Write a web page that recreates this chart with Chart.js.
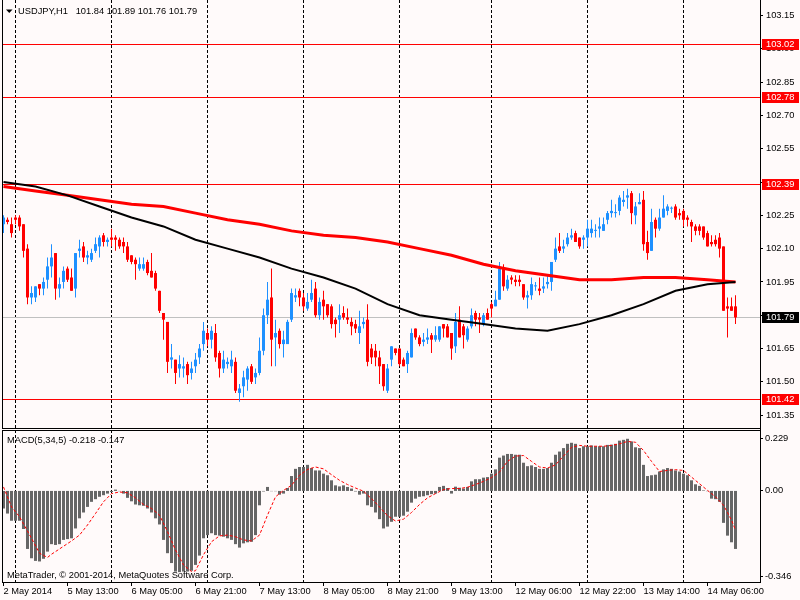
<!DOCTYPE html>
<html>
<head>
<meta charset="utf-8">
<script src="https://cdn.jsdelivr.net/npm/chart.js@4.4.0/dist/chart.umd.min.js"></script>
<style>
  body { margin: 0; background: #fffafa; }
  #wrap { position: relative; width: 800px; height: 600px; overflow: hidden; }
  canvas { position: absolute; left: 0; }
</style>
</head>
<body>
<div id="wrap">
  <canvas id="price" width="800" height="430" style="top:0px"></canvas>
  <canvas id="macd" width="800" height="170" style="top:430px"></canvas>
</div>
<script>
// USDJPY H1 candles (oldest first)
const opens = [
  102.21,102.23,102.21,102.24,102.24,102.21,102.10,101.88,101.88,101.94,
  101.92,101.96,102.02,102.08,101.92,101.95,102.01,101.97,101.92,102.09,
  102.11,102.06,102.05,102.09,102.11,102.16,102.13,102.15,102.15,102.14,
  102.13,102.11,102.07,102.05,102.01,102.01,102.04,102.00,101.99,101.91,
  101.81,101.77,101.60,101.60,101.56,101.56,101.58,101.54,101.57,101.61,
  101.67,101.72,101.69,101.72,101.63,101.56,101.58,101.57,101.59,101.45,
  101.48,101.51,101.57,101.52,101.54,101.64,101.80,101.88,101.70,101.73,
  101.67,101.67,101.78,101.88,101.91,101.88,101.83,101.87,101.92,101.80,
  101.87,101.85,101.84,101.78,101.78,101.81,101.79,101.77,101.76,101.72,
  101.76,101.78,101.65,101.64,101.61,101.58,101.46,101.60,101.65,101.65,
  101.60,101.58,101.61,101.74,101.70,101.68,101.69,101.71,101.69,101.69,
  101.76,101.75,101.72,101.66,101.78,101.75,101.69,101.75,101.81,101.79,
  101.76,101.81,101.85,101.84,101.87,102.01,101.92,101.97,101.96,101.96,
  101.94,101.88,101.89,101.93,101.92,101.92,101.94,101.95,102.05,102.11,
  102.10,102.12,102.15,102.17,102.15,102.14,102.15,102.17,102.18,102.19,
  102.18,102.23,102.26,102.26,102.27,102.31,102.33,102.35,102.25,102.30,
  102.32,102.13,102.09,102.23,102.19,102.24,102.27,102.28,102.29,102.26,
  102.27,102.24,102.22,102.20,102.20,102.20,102.17,102.13,102.14,102.15,
  102.11,101.84,101.84,101.84];
const highs = [
  102.25,102.24,102.24,102.25,102.25,102.21,102.12,101.93,101.93,101.94,
  101.97,102.06,102.12,102.08,101.97,102.02,102.02,102.01,102.08,102.14,
  102.13,102.09,102.10,102.15,102.16,102.17,102.15,102.19,102.16,102.15,
  102.15,102.13,102.07,102.06,102.06,102.06,102.05,102.08,102.00,101.91,
  101.81,101.77,101.67,101.60,101.62,101.61,101.59,101.59,101.63,101.67,
  101.77,101.74,101.75,101.76,101.64,101.64,101.61,101.64,101.61,101.49,
  101.55,101.57,101.58,101.56,101.70,101.83,101.95,102.01,101.78,101.74,
  101.73,101.78,101.92,101.92,101.92,101.90,101.90,101.96,101.95,101.88,
  101.91,101.85,101.85,101.79,101.85,101.84,101.83,101.79,101.78,101.82,
  101.79,101.85,101.67,101.67,101.64,101.58,101.58,101.66,101.65,101.65,
  101.61,101.64,101.74,101.74,101.71,101.72,101.74,101.72,101.75,101.75,
  101.76,101.76,101.72,101.81,101.84,101.76,101.75,101.83,101.82,101.81,
  101.81,101.83,101.86,101.91,102.04,102.03,101.98,101.98,101.98,101.98,
  101.94,101.91,101.97,101.95,101.97,101.97,101.98,102.04,102.15,102.17,
  102.14,102.17,102.19,102.18,102.15,102.16,102.23,102.23,102.21,102.24,
  102.24,102.27,102.32,102.30,102.34,102.36,102.37,102.36,102.31,102.35,
  102.36,102.18,102.28,102.24,102.28,102.34,102.30,102.29,102.30,102.28,
  102.28,102.25,102.23,102.21,102.21,102.20,102.18,102.16,102.16,102.17,
  102.11,101.88,101.88,101.89];
const lows = [
  102.17,102.21,102.15,102.21,102.18,102.06,101.85,101.85,101.86,101.89,
  101.89,101.92,101.97,101.87,101.88,101.92,101.95,101.91,101.88,102.06,
  102.04,102.03,102.04,102.08,102.06,102.11,102.11,102.11,102.09,102.10,
  102.08,102.04,102.03,101.96,102.00,102.00,101.98,101.97,101.91,101.81,
  101.69,101.54,101.56,101.49,101.52,101.52,101.49,101.51,101.54,101.58,
  101.64,101.66,101.65,101.59,101.52,101.54,101.56,101.54,101.45,101.41,
  101.43,101.46,101.49,101.49,101.53,101.62,101.76,101.57,101.57,101.65,
  101.61,101.67,101.77,101.86,101.84,101.82,101.82,101.86,101.79,101.78,
  101.78,101.79,101.74,101.70,101.72,101.78,101.76,101.71,101.72,101.67,
  101.74,101.57,101.58,101.57,101.49,101.46,101.45,101.57,101.62,101.57,
  101.57,101.54,101.61,101.69,101.66,101.66,101.67,101.63,101.68,101.68,
  101.70,101.70,101.60,101.63,101.70,101.65,101.68,101.74,101.75,101.72,
  101.75,101.78,101.79,101.84,101.87,101.91,101.91,101.94,101.93,101.93,
  101.87,101.83,101.87,101.91,101.89,101.90,101.92,101.91,102.04,102.08,
  102.08,102.11,102.14,102.13,102.10,102.10,102.11,102.15,102.15,102.15,
  102.18,102.21,102.24,102.24,102.25,102.29,102.28,102.21,102.21,102.30,
  102.09,102.05,102.09,102.15,102.18,102.24,102.25,102.26,102.23,102.23,
  102.20,102.20,102.13,102.16,102.16,102.14,102.11,102.11,102.11,102.06,
  101.82,101.70,101.82,101.76];
const closes = [
  102.24,102.22,102.17,102.23,102.20,102.09,101.88,101.90,101.93,101.92,
  101.95,102.02,102.06,101.92,101.94,102.00,101.96,101.91,102.08,102.10,
  102.06,102.07,102.08,102.12,102.15,102.13,102.14,102.14,102.14,102.11,
  102.11,102.05,102.04,102.03,102.03,102.03,101.99,101.97,101.92,101.82,
  101.78,101.59,101.61,101.54,101.58,101.57,101.53,101.56,101.60,101.65,
  101.73,101.69,101.73,101.61,101.56,101.60,101.59,101.60,101.46,101.47,
  101.52,101.56,101.50,101.54,101.64,101.80,101.87,101.69,101.72,101.67,
  101.69,101.77,101.90,101.89,101.88,101.84,101.86,101.90,101.80,101.86,
  101.84,101.80,101.76,101.76,101.80,101.79,101.78,101.75,101.74,101.75,
  101.77,101.59,101.61,101.61,101.57,101.48,101.56,101.66,101.63,101.58,
  101.57,101.63,101.72,101.70,101.67,101.69,101.70,101.69,101.71,101.75,
  101.74,101.70,101.65,101.77,101.70,101.71,101.74,101.80,101.78,101.78,
  101.80,101.78,101.83,101.87,102.01,101.93,101.96,101.96,101.95,101.95,
  101.88,101.89,101.94,101.93,101.91,101.93,101.95,102.04,102.10,102.09,
  102.11,102.15,102.16,102.13,102.11,102.15,102.19,102.19,102.18,102.20,
  102.21,102.26,102.27,102.26,102.33,102.32,102.34,102.26,102.29,102.31,
  102.12,102.08,102.22,102.19,102.24,102.28,102.29,102.28,102.24,102.25,
  102.23,102.23,102.20,102.18,102.18,102.15,102.11,102.12,102.12,102.10,
  101.82,101.83,101.82,101.79];

// moving averages, read every 8 bars
const maIdx   = [0,8,16,24,32,40,48,56,64,72,80,88,96,104,112,120,128,136,144,152,160,168,176,183];
const maRed   = [102.38,102.36,102.34,102.32,102.30,102.29,102.26,102.23,102.21,102.18,102.16,102.15,
                 102.13,102.10,102.07,102.03,102.00,101.98,101.96,101.96,101.97,101.97,101.96,101.95];
const maBlack = [102.40,102.38,102.34,102.29,102.24,102.20,102.14,102.10,102.06,102.01,101.97,101.92,
                 101.85,101.80,101.78,101.76,101.74,101.73,101.76,101.80,101.85,101.91,101.94,101.95];

// MACD(5,34,5) histogram, one per bar
const macdHist = [
  -0.066,-0.085,-0.112,-0.112,-0.112,-0.143,-0.218,-0.253,-0.263,-0.265,
  -0.255,-0.228,-0.200,-0.203,-0.200,-0.184,-0.181,-0.178,-0.141,-0.103,
  -0.081,-0.060,-0.041,-0.031,-0.022,-0.016,-0.010,-0.004,0.005,-0.001,
  -0.010,-0.026,-0.039,-0.051,-0.054,-0.056,-0.066,-0.081,-0.103,-0.126,
  -0.184,-0.234,-0.271,-0.303,-0.305,-0.303,-0.303,-0.300,-0.278,-0.243,
  -0.178,-0.166,-0.159,-0.166,-0.168,-0.172,-0.178,-0.184,-0.200,-0.213,
  -0.197,-0.193,-0.191,-0.166,-0.054,-0.002,0.015,-0.001,-0.001,-0.014,
  -0.010,0.011,0.056,0.083,0.090,0.090,0.098,0.086,0.077,0.077,
  0.065,0.059,0.040,0.021,0.017,0.021,0.015,0.009,-0.002,-0.014,
  -0.010,-0.054,-0.060,-0.081,-0.106,-0.141,-0.134,-0.116,-0.097,-0.097,
  -0.093,-0.078,-0.044,-0.029,-0.022,-0.020,-0.016,-0.012,-0.010,0.015,
  0.019,0.011,-0.010,0.016,0.012,0.009,0.015,0.036,0.044,0.044,
  0.050,0.052,0.065,0.081,0.125,0.133,0.139,0.139,0.136,0.136,
  0.106,0.093,0.096,0.090,0.083,0.083,0.086,0.106,0.136,0.148,
  0.161,0.177,0.181,0.177,0.161,0.168,0.168,0.171,0.168,0.168,
  0.168,0.173,0.174,0.177,0.189,0.192,0.196,0.186,0.164,0.161,
  0.098,0.056,0.059,0.061,0.073,0.081,0.086,0.083,0.077,0.073,
  0.065,0.059,0.040,0.025,0.019,0.002,-0.001,-0.029,-0.031,-0.041,
  -0.120,-0.168,-0.193,-0.218];
// signal line, read at these bars
const sigIdx = [0,2,4,7,9,11,12,14,17,19,21,23,25,27,29,31,33,35,37,39,41,43,45,47,48,50,52,54,56,58,
  60,62,64,66,68,70,72,74,76,78,80,82,84,86,88,90,92,94,96,98,100,102,104,106,108,110,112,114,116,118,
  120,122,124,126,128,130,132,134,136,138,140,142,144,146,148,150,152,154,156,158,160,162,164,166,168,170,
  172,174,176,178,180,181,182,183];
const sigVals = [0.015,-0.060,-0.097,-0.178,-0.234,-0.250,-0.238,-0.218,-0.188,-0.166,
  -0.128,-0.085,-0.041,-0.010,-0.004,-0.007,-0.026,-0.051,-0.066,-0.091,
  -0.153,-0.222,-0.278,-0.303,-0.300,-0.240,-0.191,-0.169,-0.166,-0.172,
  -0.184,-0.188,-0.166,-0.091,-0.022,0.002,0.021,0.059,0.081,0.090,
  0.083,0.061,0.040,0.024,0.011,-0.001,-0.029,-0.060,-0.093,-0.113,
  -0.106,-0.081,-0.051,-0.026,-0.010,0.005,0.009,0.009,0.014,0.024,
  0.036,0.050,0.071,0.111,0.131,0.133,0.111,0.090,0.086,0.098,
  0.131,0.164,0.171,0.168,0.168,0.168,0.171,0.177,0.186,0.183,
  0.152,0.111,0.073,0.077,0.080,0.077,0.052,0.027,0.002,-0.022,
  -0.054,-0.081,-0.110,-0.147];

// axis labels and levels
const timeIdx = [0,16,32,48,64,80,96,112,128,144,160,176];
const timeLabels = ['2 May 2014','5 May 13:00','6 May 05:00','6 May 21:00','7 May 13:00','8 May 05:00',
                    '8 May 21:00','9 May 13:00','12 May 06:00','12 May 22:00','13 May 14:00','14 May 06:00'];
const gridBars = [3,27,51,75,99,122,146,170];
const priceTicks = [101.35,101.50,101.65,101.80,101.95,102.10,102.25,102.40,102.55,102.70,102.85,103.00,103.15];
const levels = [103.02, 102.78, 102.39, 101.42];
const lastPrice = closes[closes.length - 1];

Chart.defaults.font.family = '"Liberation Sans", Arial, sans-serif';
Chart.defaults.font.size = 9.3;
Chart.defaults.color = '#000';

const upColor = '#1e90ff', downColor = '#ff0000';
const candleColors = opens.map((o, i) => closes[i] >= o ? upColor : downColor);
const fontStr = '9.3px "Liberation Sans", Arial, sans-serif';

function drawVerticals(chart, top, bottom) {
  const ctx = chart.ctx, xs = chart.scales.x;
  ctx.save();
  ctx.strokeStyle = '#000';
  ctx.lineWidth = 1;
  ctx.setLineDash([3, 2]);
  gridBars.forEach(b => {
    const x = Math.floor(xs.getPixelForValue(b)) + 0.5;
    ctx.beginPath(); ctx.moveTo(x, top); ctx.lineTo(x, bottom); ctx.stroke();
  });
  ctx.restore();
}

const pricePlugin = {
  id: 'priceDecor',
  beforeDatasetsDraw(chart) {
    const a = chart.chartArea, ys = chart.scales.y, ctx = chart.ctx;
    drawVerticals(chart, 0, a.bottom);
    ctx.save();
    ctx.fillStyle = '#ff0000';
    levels.forEach(l => ctx.fillRect(a.left, Math.floor(ys.getPixelForValue(l)), a.right - a.left, 1));
    ctx.fillStyle = '#c0c0c0';
    ctx.fillRect(a.left, Math.floor(ys.getPixelForValue(lastPrice)), a.right - a.left, 1);
    ctx.restore();
  },
  afterDraw(chart) {
    const a = chart.chartArea, ys = chart.scales.y, ctx = chart.ctx;
    ctx.save();
    ctx.fillStyle = '#000';
    ctx.fillRect(2, 0, 1, a.bottom + 1);
    ctx.fillRect(2, a.bottom, a.right - 2, 1);
    ctx.fillRect(a.right, 0, 1, chart.height);
    // price boxes on the axis
    ctx.font = fontStr;
    ctx.textBaseline = 'middle';
    const box = (v, bg) => {
      const y = Math.floor(ys.getPixelForValue(v));
      ctx.fillStyle = bg;
      ctx.fillRect(a.right + 2, y - 5, 37, 11);
      ctx.fillStyle = '#fff';
      ctx.fillText(v.toFixed(2), a.right + 6, y + 0.5);
    };
    levels.forEach(l => box(l, '#ff0000'));
    box(lastPrice, '#000');
    // title
    ctx.fillStyle = '#000';
    ctx.beginPath();
    ctx.moveTo(6, 9.5); ctx.lineTo(12.5, 9.5); ctx.lineTo(9.25, 13); ctx.closePath(); ctx.fill();
    const n = closes.length - 1;
    const title = 'USDJPY,H1   ' + [opens[n], highs[n], lows[n], closes[n]].map(v => v.toFixed(2)).join(' ');
    ctx.fillText(title, 18, 11);
    ctx.restore();
  }
};

const macdPlugin = {
  id: 'macdDecor',
  beforeDatasetsDraw(chart) {
    const a = chart.chartArea;
    drawVerticals(chart, a.top, a.bottom);
  },
  afterDraw(chart) {
    const a = chart.chartArea, ys = chart.scales.y, ctx = chart.ctx;
    ctx.save();
    ctx.fillStyle = '#000';
    ctx.fillRect(2, a.top, a.right - 2, 1);
    ctx.fillRect(2, a.top, 1, a.bottom - a.top);
    ctx.fillRect(2, a.bottom - 1, a.right - 2, 1);
    ctx.fillRect(a.right, 0, 1, a.bottom);
    // scale labels: top, zero, bottom
    ctx.font = fontStr;
    ctx.textBaseline = 'middle';
    const lab = [
      [ys.max.toFixed(3), a.top + 8],
      ['0.00', ys.getPixelForValue(0)],
      [ys.min.toFixed(3), a.bottom - 7]
    ];
    lab.forEach(([t, y]) => {
      const yy = Math.floor(y);
      ctx.fillRect(a.right, yy, 3, 1);
      ctx.fillText(t, a.right + 5, yy + 0.5);
    });
    const n = macdHist.length - 1;
    ctx.fillText('MACD(5,34,5) ' + macdHist[n].toFixed(3) + ' ' + sigVals[sigVals.length - 1].toFixed(3), 7, 10);
    ctx.fillText('MetaTrader, \u00a9 2001-2014, MetaQuotes Software Corp.', 7, 145);
    ctx.restore();
  }
};

const noPad = s => { s.paddingTop = 0; s.paddingBottom = 0; s.paddingLeft = 0; s.paddingRight = 0; };

const xBase = {
  type: 'linear', min: -0.375, max: 189.125, offset: false,
  grid: { display: false, offset: false }
};

new Chart(document.getElementById('price'), {
  type: 'bar',
  data: {
    datasets: [
      {
        type: 'line', label: 'MA black',
        data: maIdx.map((x, k) => ({ x, y: maBlack[k] })),
        borderColor: '#000', borderWidth: 2, pointRadius: 0, tension: 0, order: 0
      },
      {
        type: 'line', label: 'MA red',
        data: maIdx.map((x, k) => ({ x, y: maRed[k] })),
        borderColor: '#ff0000', borderWidth: 3, pointRadius: 0, tension: 0, order: 1
      },
      {
        label: 'body',
        data: opens.map((o, i) => ({ x: i, y: [o, closes[i]] })),
        backgroundColor: candleColors, borderWidth: 0, barThickness: 3, minBarLength: 1,
        grouped: false, inflateAmount: 0, order: 2
      },
      {
        label: 'wick',
        data: opens.map((o, i) => ({ x: i, y: [lows[i], highs[i]] })),
        backgroundColor: candleColors, borderWidth: 0, barThickness: 1,
        grouped: false, inflateAmount: 0, order: 3
      }
    ]
  },
  options: {
    responsive: false,
    animation: false,
    events: [],
    layout: { padding: { left: 2, top: 2, bottom: 2, right: 0 } },
    plugins: { legend: { display: false }, tooltip: { enabled: false } },
    scales: {
      x: Object.assign({}, xBase, { display: false }),
      y: {
        position: 'right', min: 101.292, max: 103.211,
        afterBuildTicks: s => { s.ticks = priceTicks.map(v => ({ value: v })); },
        afterFit: s => { s.width = 40; noPad(s); },
        ticks: { padding: 3, callback: v => Number(v).toFixed(2) },
        grid: { drawOnChartArea: false, drawTicks: true, tickLength: 3, color: '#000' },
        border: { display: false }
      }
    }
  },
  plugins: [pricePlugin]
});

new Chart(document.getElementById('macd'), {
  type: 'bar',
  data: {
    datasets: [
      {
        type: 'line', label: 'Signal',
        data: sigIdx.map((x, k) => ({ x, y: sigVals[k] })),
        borderColor: '#ff0000', borderWidth: 1, borderDash: [3, 2], pointRadius: 0, tension: 0, order: 0
      },
      {
        label: 'MACD',
        data: macdHist.map((v, i) => ({ x: i, y: v })),
        backgroundColor: '#666666', borderWidth: 0, barThickness: 3,
        grouped: false, inflateAmount: 0, order: 1
      }
    ]
  },
  options: {
    responsive: false,
    animation: false,
    events: [],
    layout: { padding: { left: 2, top: 0, bottom: 0, right: 0 } },
    plugins: { legend: { display: false }, tooltip: { enabled: false } },
    scales: {
      x: Object.assign({}, xBase, {
        display: true,
        afterBuildTicks: s => { s.ticks = timeIdx.map(v => ({ value: v })); },
        afterFit: s => { s.height = 17; noPad(s); },
        ticks: {
          autoSkip: false, maxRotation: 0, align: 'start', padding: 0,
          callback: (v, i) => timeLabels[i]
        },
        grid: { display: true, drawOnChartArea: false, drawTicks: true, tickLength: 3, color: '#000', offset: false },
        border: { display: false }
      }),
      y: {
        position: 'right', min: -0.346, max: 0.229,
        afterFit: s => { s.width = 40; noPad(s); },
        ticks: { display: false },
        grid: { display: false },
        border: { display: false }
      }
    }
  },
  plugins: [macdPlugin]
});
</script>
</body>
</html>
